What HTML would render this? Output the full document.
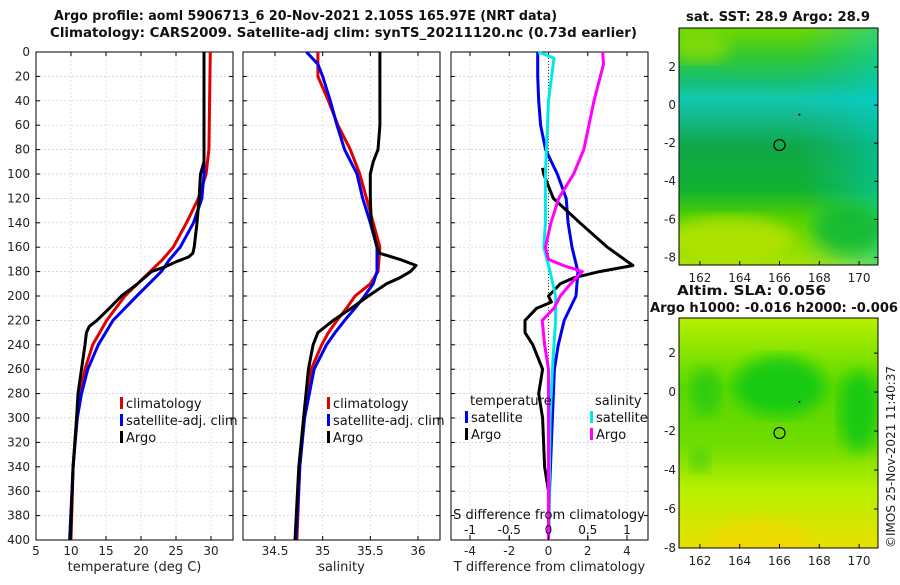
<!DOCTYPE html>
<html><head><meta charset="utf-8">
<style>
body{margin:0;background:#fff;}
svg text{font-family:"DejaVu Sans","Liberation Sans",sans-serif;}
</style></head>
<body>
<svg id="c" width="900" height="580" xmlns="http://www.w3.org/2000/svg">
<defs>
<linearGradient id="sstG" x1="0" y1="0" x2="0" y2="1">
<stop offset="0" stop-color="#70d800"/><stop offset="0.12" stop-color="#30c830"/>
<stop offset="0.22" stop-color="#18c070"/><stop offset="0.3" stop-color="#10c8b0"/>
<stop offset="0.38" stop-color="#14b888"/><stop offset="0.5" stop-color="#10a848"/>
<stop offset="0.68" stop-color="#10b030"/><stop offset="0.8" stop-color="#50d000"/>
<stop offset="1" stop-color="#a8e400"/></linearGradient>
<linearGradient id="sstR" x1="0" y1="0" x2="1" y2="0">
<stop offset="0" stop-color="#ffffff" stop-opacity="0"/><stop offset="0.6" stop-color="#10c0c0" stop-opacity="0"/><stop offset="1" stop-color="#00d0d0" stop-opacity="0.5"/></linearGradient>
<linearGradient id="slaG" x1="0" y1="0" x2="0" y2="1">
<stop offset="0" stop-color="#b8f000"/><stop offset="0.3" stop-color="#58d800"/>
<stop offset="0.55" stop-color="#70dc00"/><stop offset="0.75" stop-color="#b8f000"/>
<stop offset="1" stop-color="#e8e000"/></linearGradient>
<filter id="bl"><feGaussianBlur stdDeviation="7"/></filter>
<clipPath id="cp1"><rect x="679" y="28" width="199" height="237"/></clipPath>
<clipPath id="cp2"><rect x="679" y="318" width="199" height="230"/></clipPath>
</defs>
<g id="panels"></g>
</svg>
<script>
const NS="http://www.w3.org/2000/svg";
const root=document.getElementById('panels');
function mk(tag,attrs,parent,txt){const e=document.createElementNS(NS,tag);for(const k in attrs)e.setAttribute(k,attrs[k]);if(txt!==undefined)e.textContent=txt;(parent||root).appendChild(e);return e;}

// ---- data ----
const depthTicks=[0,20,40,60,80,100,120,140,160,180,200,220,240,260,280,300,320,340,360,380,400];
const tempTicks=[5,10,15,20,25,30];
const salTicks=[34.5,35,35.5,36];
const tdiffTicks=[-4,-2,0,2,4];
const sdiffTicks=[-1,-0.5,0,0.5,1];
const tempDepthClim=[0,80,100,120,140,160,170,180,200,220,240,260,280,300,340,400];
const tempClim=[29.9,29.7,29.3,28.2,26.5,24.6,23.1,21.3,17.7,15.1,13.1,12.0,11.3,10.8,10.3,10.0];
const tempDepthSat=[0,100,120,140,160,170,180,200,220,240,260,280,300,340,400];
const tempSat=[29.0,29.0,28.7,27.5,25.6,24.1,22.9,19.4,16.0,13.9,12.4,11.5,10.9,10.3,9.8];
const tempDepthArgo=[0,90,100,120,140,160,165,168,172,176,180,190,200,210,220,225,230,240,260,280,300,340,400];
const tempArgo=[29.0,29.0,28.5,28.3,28.0,27.6,27.4,26.8,25.0,23.5,21.5,19.5,17.2,15.5,13.7,12.6,12.2,12.0,11.5,11.0,10.8,10.3,9.9];
const salDepthClim=[0,20,40,60,80,100,120,140,160,180,190,200,210,220,230,240,260,300,340,400];
const salClim=[34.95,34.95,35.06,35.16,35.29,35.39,35.46,35.53,35.6,35.58,35.5,35.34,35.25,35.15,35.06,34.99,34.88,34.8,34.76,34.73];
const salDepthSat=[0,10,20,40,60,80,100,120,140,160,180,190,200,210,220,230,240,260,300,340,400];
const salSat=[34.83,34.95,35.0,35.08,35.15,35.23,35.36,35.42,35.5,35.57,35.57,35.53,35.44,35.34,35.23,35.13,35.04,34.91,34.81,34.76,34.72];
const salDepthArgo=[0,60,80,90,100,120,140,160,165,170,175,180,185,190,200,210,220,230,240,260,300,340,400];
const salArgo=[35.6,35.6,35.58,35.53,35.5,35.5,35.51,35.57,35.6,35.81,35.98,35.92,35.81,35.67,35.48,35.3,35.11,34.95,34.9,34.85,34.8,34.75,34.71];
const dDepthTSat=[0,20,40,60,80,100,120,140,160,180,200,220,240,260,300,360,400];
const dTSat=[-0.55,-0.55,-0.5,-0.4,-0.15,0.45,0.9,1.0,1.2,1.5,1.4,0.8,0.5,0.3,0.2,0.05,0];
const dDepthTArgo=[95,100,120,140,160,175,180,185,190,200,205,210,220,230,240,260,280,300,340,360,400];
const dTArgo=[-0.3,-0.25,0.25,1.6,3.0,4.3,2.6,1.3,0.6,0,0.15,-0.6,-1.2,-1.2,-0.8,-0.3,-0.5,-0.3,-0.2,0,0];
const dDepthSSat=[0,5,40,100,140,160,180,200,220,260,300,400];
const dSSat=[-0.13,0.07,0,-0.04,-0.04,-0.06,0.02,0.09,0.09,0.05,0.02,0];
const dDepthSArgo=[0,10,40,80,100,120,140,160,170,175,180,190,200,210,220,240,260,300,400];
const dSArgo=[0.69,0.7,0.58,0.45,0.32,0.13,0.03,-0.04,0,0.19,0.43,0.28,0.15,0.07,-0.08,-0.05,0,0,0];
const lonTicks=[162,164,166,168,170];
const latTicks=[2,0,-2,-4,-6,-8];
const argoPos=[166,-2.1];

// ---- axes ----
const Y0=52,Y1=540;
const yD=d=>Y0+(d/400)*(Y1-Y0);
function lin(d0,d1,r0,r1){return v=>r0+(v-d0)/(d1-d0)*(r1-r0);}

function panel(name,x0,x1,xs,xticks,xlab){
  const g=mk('g',{},root);
  
  
  for(const d of depthTicks){mk('line',{x1:x0,x2:x1,y1:yD(d),y2:yD(d),stroke:'#c8c8e8','stroke-width':0.7,'stroke-dasharray':'2,2'},g);
    mk('line',{x1:x0,x2:x0+4,y1:yD(d),y2:yD(d),stroke:'#000'},g);mk('line',{x1:x1-4,x2:x1,y1:yD(d),y2:yD(d),stroke:'#000'},g);}
  for(const t of xticks){const x=xs(t);mk('line',{x1:x,x2:x,y1:Y0,y2:Y1,stroke:'#e8c8c8','stroke-width':0.7,'stroke-dasharray':'2,2'},g);
    mk('line',{x1:x,x2:x,y1:Y1,y2:Y1-4,stroke:'#000'},g);mk('line',{x1:x,x2:x,y1:Y0,y2:Y0+4,stroke:'#000'},g);
    const t1=mk('text',{x:x,y:Y1+15,'font-size':12,'text-anchor':'middle',fill:'#222'},g,t);
    }
  mk('rect',{x:x0,y:Y0,width:x1-x0,height:Y1-Y0,fill:'none',stroke:'#000','stroke-width':1},g);
  const xl=mk('text',{x:(x0+x1)/2,y:571,'font-size':13,'text-anchor':'middle',fill:'#222'},g,xlab);
  
  return g;
}
function line(g,name,xs,vals,depths,color,w){
  const pts=vals.map((v,i)=>xs(v).toFixed(1)+','+yD(depths[i]).toFixed(1)).join(' ');
  const p=mk('polyline',{points:pts,fill:'none',stroke:color,'stroke-width':w||3,'stroke-linejoin':'round'},g);
  
}
function legend(g,x,y,entries){
  entries.forEach((e,i)=>{const yy=y+i*17;
    mk('rect',{x:x,y:yy-6,width:3,height:12,fill:e[1]},g);
    const t=mk('text',{x:x+6,y:yy+5,'font-size':13,fill:'#111'},g,e[0]);
    });
}

for(const d of depthTicks){const t=mk('text',{x:30,y:yD(d)+4,'font-size':12,'text-anchor':'end',fill:'#222'},root,d);
  }

// panel 1
const xT=lin(5,30,36,211);
const g1=panel('temperature-panel',36,233,xT,tempTicks,'temperature (deg C)');
line(g1,'temp-climatology',xT,tempClim,tempDepthClim,'#e00000');
line(g1,'temp-satellite-adj',xT,tempSat,tempDepthSat,'#0000f0');
line(g1,'temp-argo',xT,tempArgo,tempDepthArgo,'#000');
legend(g1,120,403,[['climatology','#e00000'],['satellite-adj. clim','#0000f0'],['Argo','#000']]);

// panel 2
const xS=lin(34.5,36,275,418);
const g2=panel('salinity-panel',243,440,xS,salTicks,'salinity');
line(g2,'sal-climatology',xS,salClim,salDepthClim,'#e00000');
line(g2,'sal-satellite-adj',xS,salSat,salDepthSat,'#0000f0');
line(g2,'sal-argo',xS,salArgo,salDepthArgo,'#000');
legend(g2,327,403,[['climatology','#e00000'],['satellite-adj. clim','#0000f0'],['Argo','#000']]);

// panel 3
const xDT=lin(-4,4,470,627);
const xDS=lin(-1,1,470,627);
const g3=panel('difference-panel',451,648,xDT,tdiffTicks,'T difference from climatology');
mk('line',{x1:xDT(0),x2:xDT(0),y1:Y0,y2:Y1,stroke:'#444','stroke-width':1,'stroke-dasharray':'1,2'},g3);
line(g3,'tdiff-satellite',xDT,dTSat,dDepthTSat,'#0000f0');
line(g3,'tdiff-argo',xDT,dTArgo,dDepthTArgo,'#000');
line(g3,'sdiff-satellite',xDS,dSSat,dDepthSSat,'#00e8e8');
line(g3,'sdiff-argo',xDS,dSArgo,dDepthSArgo,'#ff00ff');
mk('text',{x:470,y:405,'font-size':13,fill:'#111'},g3,'temperature');
mk('text',{x:595,y:405,'font-size':13,fill:'#111'},g3,'salinity');
legend(g3,465,417,[['satellite','#0000f0'],['Argo','#000']]);
legend(g3,590,417,[['satellite','#00e8e8'],['Argo','#ff00ff']]);
mk('text',{x:549,y:519,'font-size':13,'text-anchor':'middle',fill:'#111'},g3,'S difference from climatology');
for(const t of sdiffTicks){mk('text',{x:xDS(t),y:534,'font-size':12,'text-anchor':'middle',fill:'#111'},g3,t);
  mk('line',{x1:xDS(t),x2:xDS(t),y1:Y1,y2:Y1-5,stroke:'#000'},g3);}

// titles
const tt=mk('text',{x:54,y:20,'font-size':13,'font-weight':'bold',textLength:503,lengthAdjust:'spacingAndGlyphs',fill:'#111'},root,'Argo profile: aoml 5906713_6 20-Nov-2021 2.105S 165.97E (NRT data)');

const t2=mk('text',{x:50,y:37,'font-size':13,'font-weight':'bold',textLength:587,lengthAdjust:'spacingAndGlyphs',fill:'#111'},root,'Climatology: CARS2009. Satellite-adj clim: synTS_20211120.nc (0.73d earlier)');


// maps
function map(name,top,bot,latTop,latBot,gradId,extra,titles,cp){
  const g=mk('g',{},root);
  
  const xm=lin(160.95,170.95,679,878), ym=lin(latTop,latBot,top,bot);
  const inner=mk('g',{'clip-path':'url(#'+cp+')'},g);
  mk('rect',{x:679,y:top,width:199,height:bot-top,fill:'url(#'+gradId+')'},inner);
  extra(inner,xm,ym);
  mk('rect',{x:679,y:top,width:199,height:bot-top,fill:'none',stroke:'#000'},g);
  for(const l of lonTicks){mk('text',{x:xm(l),y:bot+17,'font-size':12,'text-anchor':'middle',fill:'#222'},g,l);
    mk('line',{x1:xm(l),x2:xm(l),y1:bot,y2:bot-4,stroke:'#000'},g);}
  for(const l of latTicks){mk('text',{x:676,y:ym(l)+4,'font-size':12,'text-anchor':'end',fill:'#222'},g,l);
    mk('line',{x1:878,x2:874,y1:ym(l),y2:ym(l),stroke:'#000'},g);}
  const c=mk('circle',{cx:xm(argoPos[0]),cy:ym(argoPos[1]),r:5.5,fill:'none',stroke:'#000','stroke-width':1.2},g);
  
  mk('circle',{cx:xm(167),cy:ym(-0.5),r:1,fill:'#000'},g);
  titles.forEach(t=>{const e=mk('text',{x:t[0],y:t[1],'font-size':13,'font-weight':'bold',textLength:t[3],lengthAdjust:'spacingAndGlyphs',fill:'#111'},g,t[2]);
    });
}
map('sst-map',28,265,4.05,-8.4,'sstG',(g,xm,ym)=>{
  mk('rect',{x:679,y:28,width:199,height:237,fill:'url(#sstR)'},g);
  mk('ellipse',{cx:xm(163.5),cy:ym(-7),rx:65,ry:22,fill:'#c0e400',opacity:0.75,filter:'url(#bl)'},g);
  mk('ellipse',{cx:xm(162),cy:ym(3),rx:30,ry:15,fill:'#a0e000',opacity:0.6,filter:'url(#bl)'},g);
  mk('ellipse',{cx:xm(169.5),cy:ym(-6.5),rx:35,ry:25,fill:'#10b830',opacity:0.8,filter:'url(#bl)'},g);
},[[686,21,'sat. SST: 28.9 Argo: 28.9',184]],'cp1');
map('sla-map',318,548,3.8,-8,'slaG',(g,xm,ym)=>{
  mk('ellipse',{cx:xm(166),cy:ym(0.3),rx:45,ry:30,fill:'#10c818',opacity:0.85,filter:'url(#bl)'},g);
  mk('ellipse',{cx:xm(170),cy:ym(-1),rx:20,ry:40,fill:'#10c818',opacity:0.85,filter:'url(#bl)'},g);
  mk('ellipse',{cx:xm(162.3),cy:ym(0),rx:15,ry:25,fill:'#20c818',opacity:0.75,filter:'url(#bl)'},g);
  mk('ellipse',{cx:xm(162),cy:ym(-3.5),rx:10,ry:12,fill:'#30c818',opacity:0.6,filter:'url(#bl)'},g);
  mk('ellipse',{cx:xm(165),cy:ym(-7.8),rx:50,ry:25,fill:'#f0d800',opacity:0.8,filter:'url(#bl)'},g);
},[[677,295,'Altim. SLA: 0.056',149],[650,312,'Argo h1000: -0.016 h2000: -0.006',248]],'cp2');

const cr=mk('text',{x:0,y:0,'font-size':12,fill:'#222',transform:'translate(895,548) rotate(-90)'},root,'©IMOS 25-Nov-2021 11:40:37');

</script>
</body></html>
